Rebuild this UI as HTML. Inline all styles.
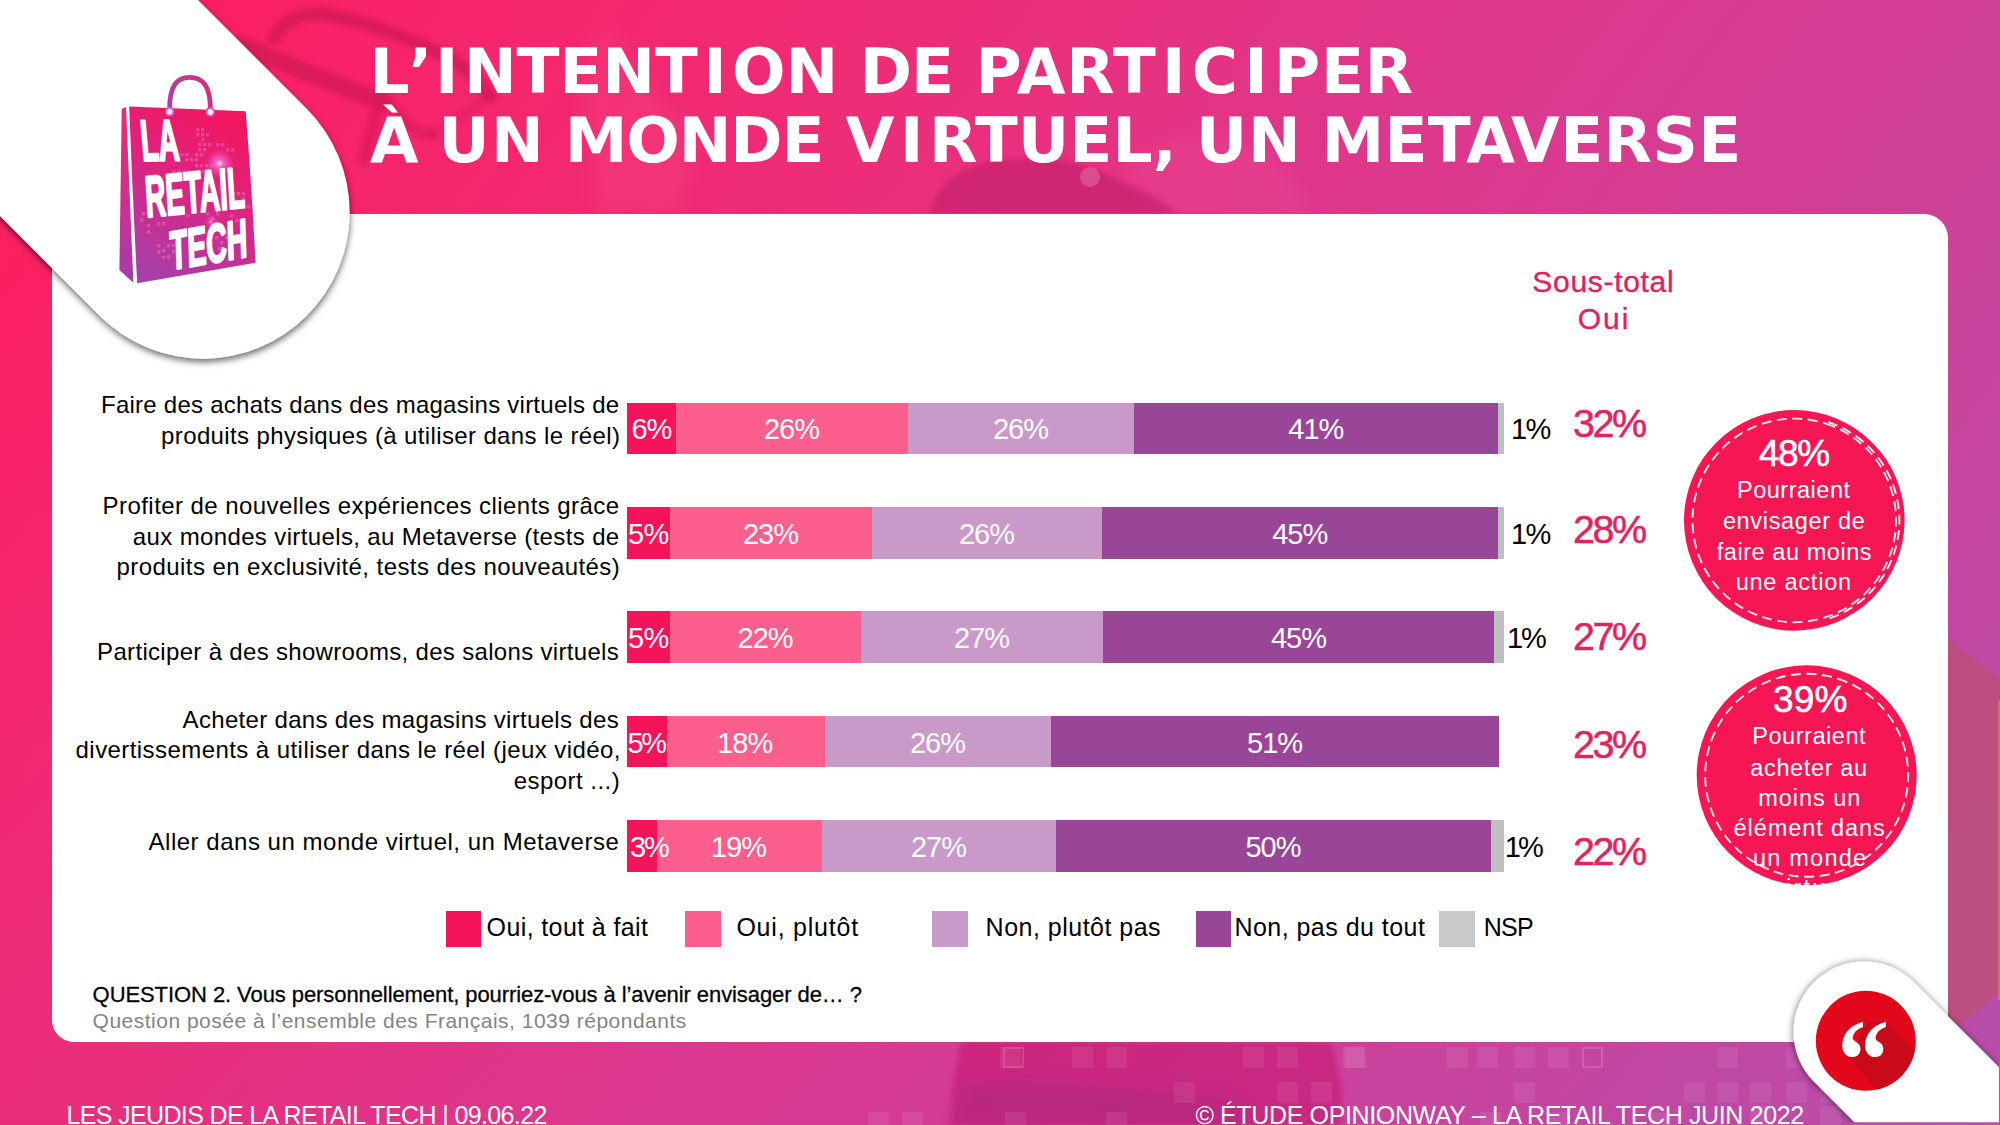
<!DOCTYPE html>
<html lang="fr"><head><meta charset="utf-8"><title>L’intention de participer à un monde virtuel, un metaverse</title>
<style>
html,body{margin:0;padding:0;background:#fff;}
body{width:2000px;height:1125px;overflow:hidden;font-family:"Liberation Sans",sans-serif;}
#slide{position:relative;width:2000px;height:1125px;overflow:hidden;
 background:linear-gradient(180deg,rgba(190,60,170,0) 35%,rgba(190,60,170,0.11) 100%),linear-gradient(127deg,#FC1D5A 0%,#F7236A 15%,#EE2C76 32%,#E0368A 50%,#D03F96 70%,#C248A1 86%,#B650AC 100%);}
#bgart{position:absolute;left:0;top:0;}
#card{position:absolute;left:52px;top:213.5px;width:1896px;height:828.5px;background:#fff;border-radius:0 24px 0 22px;}
.t{position:absolute;white-space:nowrap;line-height:1;}
.i{margin:0 5.5px;}
.ap{margin:0 -2.6px 0 -1px;}
.seg{position:absolute;}
.sq{position:absolute;top:910.5px;height:36px;}
svg{position:absolute;left:0;top:0;overflow:visible;}
</style></head>
<body>
<div id="slide">
<svg id="bgart" width="2000" height="1125" viewBox="0 0 2000 1125">
<defs>
<filter id="b3" filterUnits="userSpaceOnUse" x="0" y="0" width="2000" height="1125"><feGaussianBlur stdDeviation="2"/></filter>
<filter id="b8" filterUnits="userSpaceOnUse" x="0" y="0" width="2000" height="1125"><feGaussianBlur stdDeviation="8"/></filter>
<clipPath id="topclip"><rect x="0" y="0" width="2000" height="213.5"/></clipPath>
<clipPath id="botclip"><rect x="0" y="1042" width="2000" height="83"/></clipPath>
</defs>
<g clip-path="url(#topclip)">
<g fill="none" stroke="#D41755" stroke-linecap="round" stroke-linejoin="round" filter="url(#b3)">
<path d="M274 38 C282 22 300 13 320 14 C360 18 420 42 455 62 C470 72 482 84 490 96" stroke-opacity="0.8" stroke-width="13"/>
<path d="M240 45 C290 65 340 88 384 102" stroke-opacity="0.8" stroke-width="18"/>
<path d="M380 100 C374 122 368 142 364 160" stroke-opacity="0.55" stroke-width="12"/>
<path d="M394 106 C404 124 416 136 432 134" stroke-opacity="0.5" stroke-width="10"/>
<path d="M490 96 C470 112 450 126 432 134" stroke-opacity="0.35" stroke-width="9"/>
</g>
<path d="M596 30 C610 22 626 40 640 70 C652 96 668 110 690 120 C700 150 690 190 676 214 L600 214 C586 180 590 150 584 120 C580 90 584 50 596 30 Z" fill="#FF6A98" fill-opacity="0.13" filter="url(#b8)"/>
<path d="M930 214 C936 186 958 166 1000 160 C1040 155 1080 160 1110 176 C1140 190 1168 202 1178 214 Z" fill="#C11C68" fill-opacity="0.62" filter="url(#b3)"/>
<circle cx="1090" cy="177" r="10" fill="#E56CA8" fill-opacity="0.55"/>
<path d="M1120 175 C1150 140 1200 128 1240 140 C1280 155 1300 190 1310 214 L1170 214 C1160 196 1140 186 1120 175 Z" fill="#F060A0" fill-opacity="0.16" filter="url(#b8)"/>
</g>
<g clip-path="url(#botclip)">
<path d="M962 1042 L1330 1042 C1340 1070 1345 1100 1340 1126 L950 1126 C952 1096 955 1066 962 1042 Z" fill="#C4156C" fill-opacity="0.55" filter="url(#b3)"/>
<path d="M962 1085 C1040 1078 1150 1090 1240 1100 L1250 1126 L950 1126 Z" fill="#9C2A7E" fill-opacity="0.35" filter="url(#b8)"/>
</g>
<path d="M1948 640 L2000 678 L2000 992 L1948 1035 Z" fill="#BB4F7C" fill-opacity="0.92"/>
<rect x="1998" y="700" width="2" height="300" fill="#F08A6A" fill-opacity="0.5"/>
<g fill="#fff" fill-opacity="0.075"><rect x="1343" y="1047" width="21" height="21"/><rect x="1447" y="1047" width="21" height="21"/><rect x="1477" y="1047" width="21" height="21"/><rect x="1514" y="1047" width="21" height="21"/><rect x="1548" y="1047" width="21" height="21"/><rect x="1717" y="1047" width="21" height="21"/><rect x="1786" y="1047" width="21" height="21"/><rect x="1514" y="1082" width="21" height="21"/><rect x="1684" y="1082" width="21" height="21"/><rect x="1717" y="1082" width="21" height="21"/><rect x="1750" y="1082" width="21" height="21"/><rect x="1786" y="1082" width="21" height="21"/><rect x="1820" y="1082" width="21" height="21"/><rect x="1750" y="1106" width="21" height="21"/><rect x="1820" y="1106" width="21" height="21"/><rect x="1000" y="1047" width="21" height="21"/><rect x="1072" y="1047" width="21" height="21"/><rect x="1106" y="1047" width="21" height="21"/><rect x="1243" y="1047" width="21" height="21"/><rect x="1277" y="1047" width="21" height="21"/><rect x="1345" y="1047" width="21" height="21"/><rect x="1174" y="1082" width="21" height="21"/><rect x="1277" y="1082" width="21" height="21"/><rect x="1311" y="1082" width="21" height="21"/><rect x="868" y="1112" width="21" height="21"/><rect x="902" y="1112" width="21" height="21"/><rect x="1005" y="1112" width="21" height="21"/><rect x="1106" y="1112" width="21" height="21"/><rect x="1480" y="1112" width="21" height="21"/><rect x="1548" y="1112" width="21" height="21"/><rect x="1650" y="1112" width="21" height="21"/><rect x="1920" y="1005" width="21" height="21"/><rect x="1920" y="1080" width="21" height="21"/></g>
<rect x="1583" y="1048" width="19" height="19" fill="none" stroke="#fff" stroke-opacity="0.14" stroke-width="2"/>
<rect x="1004" y="1048" width="19" height="19" fill="none" stroke="#fff" stroke-opacity="0.14" stroke-width="2"/>
</svg>
<div id="card"></div>
<svg id="tabs" width="2000" height="1125" viewBox="0 0 2000 1125">
<defs>
<filter id="sh" filterUnits="userSpaceOnUse" x="-400" y="-400" width="2800" height="1925"><feDropShadow dx="0.5" dy="3.5" stdDeviation="3" flood-color="#000" flood-opacity="0.55"/></filter>
<filter id="sh2" filterUnits="userSpaceOnUse" x="1500" y="800" width="900" height="700"><feDropShadow dx="-0.5" dy="0.5" stdDeviation="3.5" flood-color="#000" flood-opacity="0.55"/></filter>
<clipPath id="brclip"><rect x="1700" y="900" width="299" height="222.3"/></clipPath>
<clipPath id="qclip"><circle cx="1865.8" cy="1040.8" r="50"/></clipPath>
</defs>
<line x1="-196.8" y1="-187.75" x2="203.2" y2="212.25" stroke="#fff" stroke-width="292.8" stroke-linecap="round" filter="url(#sh)"/>
<g clip-path="url(#brclip)"><line x1="1864" y1="1032" x2="2164" y2="1332" stroke="#fff" stroke-width="141" stroke-linecap="round" filter="url(#sh2)"/></g>
<circle cx="1865.8" cy="1040.8" r="50" fill="#E2071A"/>
<g clip-path="url(#qclip)"><path d="M1868 1022 L1886 1022 L1960 1096 L1920 1140 L1846 1054 L1858 1040 Z" fill="#C80A1A"/></g>
<text transform="translate(1837.3 1098.8) scale(0.98 1.10)" x="0" y="0" font-family="'Liberation Serif',serif" font-weight="700" font-size="106" fill="#fff">“</text>
</svg>
<svg id="logo" width="2000" height="1125" viewBox="0 0 2000 1125">
<defs>
<linearGradient id="bagG" gradientUnits="userSpaceOnUse" x1="240" y1="112" x2="150" y2="285">
<stop offset="0" stop-color="#F4145A"/><stop offset="0.45" stop-color="#DD2480"/><stop offset="1" stop-color="#A341AE"/></linearGradient>
<linearGradient id="sideG" gradientUnits="userSpaceOnUse" x1="124" y1="108" x2="124" y2="283">
<stop offset="0" stop-color="#EE2A72"/><stop offset="0.55" stop-color="#CC3090"/><stop offset="1" stop-color="#A03FA6"/></linearGradient>
<linearGradient id="hanG" gradientUnits="userSpaceOnUse" x1="168" y1="100" x2="212" y2="90">
<stop offset="0" stop-color="#A83FA2"/><stop offset="0.5" stop-color="#C7358C"/><stop offset="1" stop-color="#D42F7C"/></linearGradient>
<radialGradient id="glow"><stop offset="0" stop-color="#fff" stop-opacity="0.95"/><stop offset="0.25" stop-color="#FF7FE0" stop-opacity="0.7"/><stop offset="1" stop-color="#FF4FD0" stop-opacity="0"/></radialGradient>
<radialGradient id="rivet"><stop offset="0" stop-color="#fff"/><stop offset="0.5" stop-color="#FBE6FB"/><stop offset="0.62" stop-color="#D77FD6"/><stop offset="1" stop-color="#B848B0"/></radialGradient>
</defs>
<path d="M169.7 110 C169.2 86 177 77.3 189.6 77.3 C202.5 77.3 210.8 86 210.3 110" fill="none" stroke="url(#hanG)" stroke-width="4.8" stroke-linecap="round"/>
<path d="M121.7 109.1 L126 106.9 L133.4 282.8 L119.4 270 Z" fill="url(#sideG)"/>
<path d="M129.2 106.6 L245.7 111.2 Q251.5 185 255.6 262.8 L137.2 283.3 Q132.5 195 129.2 106.6 Z" fill="url(#bagG)"/>
<g fill="#FF6FCB" fill-opacity="0.42"><rect x="196" y="128" width="3.4" height="3.4"/><rect x="201" y="128" width="3.4" height="3.4"/><rect x="196" y="133" width="3.4" height="3.4"/><rect x="201" y="133" width="3.4" height="3.4"/><rect x="206" y="133" width="3.4" height="3.4"/><rect x="201" y="138" width="3.4" height="3.4"/><rect x="198" y="143" width="3.4" height="3.4"/><rect x="203" y="143" width="3.4" height="3.4"/><rect x="208" y="143" width="3.4" height="3.4"/><rect x="198" y="148" width="3.4" height="3.4"/><rect x="203" y="148" width="3.4" height="3.4"/><rect x="216" y="143" width="3.4" height="3.4"/><rect x="221" y="143" width="3.4" height="3.4"/><rect x="226" y="148" width="3.4" height="3.4"/><rect x="231" y="148" width="3.4" height="3.4"/><rect x="180" y="153" width="3.4" height="3.4"/><rect x="185" y="153" width="3.4" height="3.4"/><rect x="195" y="153" width="3.4" height="3.4"/><rect x="200" y="153" width="3.4" height="3.4"/><rect x="185" y="158" width="3.4" height="3.4"/><rect x="190" y="158" width="3.4" height="3.4"/><rect x="195" y="158" width="3.4" height="3.4"/><rect x="195" y="164" width="3.4" height="3.4"/><rect x="200" y="164" width="3.4" height="3.4"/><rect x="205" y="164" width="3.4" height="3.4"/><rect x="210" y="164" width="3.4" height="3.4"/><rect x="215" y="164" width="3.4" height="3.4"/><rect x="172" y="170" width="3.4" height="3.4"/><rect x="177" y="170" width="3.4" height="3.4"/><rect x="182" y="170" width="3.4" height="3.4"/><rect x="187" y="170" width="3.4" height="3.4"/><rect x="192" y="170" width="3.4" height="3.4"/><rect x="197" y="170" width="3.4" height="3.4"/><rect x="202" y="170" width="3.4" height="3.4"/><rect x="207" y="170" width="3.4" height="3.4"/><rect x="232" y="192" width="3.4" height="3.4"/><rect x="237" y="192" width="3.4" height="3.4"/><rect x="242" y="192" width="3.4" height="3.4"/><rect x="232" y="197" width="3.4" height="3.4"/><rect x="242" y="197" width="3.4" height="3.4"/><rect x="237" y="202" width="3.4" height="3.4"/><rect x="247" y="205" width="3.4" height="3.4"/><rect x="142" y="212" width="3.4" height="3.4"/><rect x="147" y="212" width="3.4" height="3.4"/><rect x="140" y="218" width="3.4" height="3.4"/><rect x="147" y="224" width="3.4" height="3.4"/><rect x="147" y="230" width="3.4" height="3.4"/><rect x="157" y="222" width="3.4" height="3.4"/><rect x="162" y="222" width="3.4" height="3.4"/><rect x="157" y="244" width="3.4" height="3.4"/><rect x="162" y="249" width="3.4" height="3.4"/><rect x="167" y="244" width="3.4" height="3.4"/><rect x="172" y="244" width="3.4" height="3.4"/><rect x="157" y="250" width="3.4" height="3.4"/><rect x="167" y="255" width="3.4" height="3.4"/><rect x="172" y="250" width="3.4" height="3.4"/><rect x="162" y="256" width="3.4" height="3.4"/><rect x="215" y="236" width="3.4" height="3.4"/><rect x="220" y="241" width="3.4" height="3.4"/><rect x="225" y="236" width="3.4" height="3.4"/><rect x="218" y="247" width="3.4" height="3.4"/><rect x="206" y="212" width="3.4" height="3.4"/><rect x="211" y="217" width="3.4" height="3.4"/><rect x="216" y="212" width="3.4" height="3.4"/><rect x="186" y="214" width="3.4" height="3.4"/><rect x="230" y="214" width="3.4" height="3.4"/><rect x="235" y="219" width="3.4" height="3.4"/></g>
<circle cx="219.6" cy="163.4" r="15" fill="url(#glow)"/>
<circle cx="211" cy="222" r="7" fill="url(#glow)" opacity="0.6"/>
<circle cx="169.7" cy="111.7" r="4.9" fill="url(#rivet)"/><circle cx="210.3" cy="112" r="4.9" fill="url(#rivet)"/>
<g font-family="'Liberation Sans',sans-serif" font-weight="700" font-size="100" fill="#fff" stroke="#fff" stroke-width="2" stroke-linejoin="round">
<text transform="matrix(0.2862 -0.0040 0.0517 0.5810 142.38 160.82)" x="0" y="0" style="vector-effect:non-scaling-stroke">LA</text>
<text transform="matrix(0.2798 -0.0289 0.0349 0.5810 146.62 217.37)" x="0" y="0" style="vector-effect:non-scaling-stroke">RETAIL</text>
<text transform="matrix(0.2842 -0.0502 0.0168 0.5447 170.52 270.05)" x="0" y="0" style="vector-effect:non-scaling-stroke">TECH</text>
</g>
</svg>
<div id="chart">
<div class="seg" style="left:627.0px;top:402.5px;width:48.9px;height:51.6px;background:#F5145A"></div><div class="seg" style="left:675.9px;top:402.5px;width:232.2px;height:51.6px;background:#FC5F8D"></div><div class="seg" style="left:908.1px;top:402.5px;width:225.9px;height:51.6px;background:#C999C9"></div><div class="seg" style="left:1134.0px;top:402.5px;width:363.8px;height:51.6px;background:#994698"></div><div class="seg" style="left:1497.8px;top:402.5px;width:5.9px;height:51.6px;background:#BFBFBF"></div>
<div class="seg" style="left:627.0px;top:506.7px;width:42.9px;height:52.1px;background:#F5145A"></div><div class="seg" style="left:669.9px;top:506.7px;width:202.2px;height:52.1px;background:#FC5F8D"></div><div class="seg" style="left:872.1px;top:506.7px;width:229.8px;height:52.1px;background:#C999C9"></div><div class="seg" style="left:1101.9px;top:506.7px;width:395.9px;height:52.1px;background:#994698"></div><div class="seg" style="left:1497.8px;top:506.7px;width:5.9px;height:52.1px;background:#BFBFBF"></div>
<div class="seg" style="left:627.0px;top:611.0px;width:43.0px;height:51.9px;background:#F5145A"></div><div class="seg" style="left:670.0px;top:611.0px;width:191.3px;height:51.9px;background:#FC5F8D"></div><div class="seg" style="left:861.3px;top:611.0px;width:241.8px;height:51.9px;background:#C999C9"></div><div class="seg" style="left:1103.1px;top:611.0px;width:390.8px;height:51.9px;background:#994698"></div><div class="seg" style="left:1493.9px;top:611.0px;width:9.8px;height:51.9px;background:#BFBFBF"></div>
<div class="seg" style="left:627.0px;top:715.6px;width:39.6px;height:51.8px;background:#F5145A"></div><div class="seg" style="left:666.6px;top:715.6px;width:158.4px;height:51.8px;background:#FC5F8D"></div><div class="seg" style="left:825.0px;top:715.6px;width:226.0px;height:51.8px;background:#C999C9"></div><div class="seg" style="left:1051.0px;top:715.6px;width:448.2px;height:51.8px;background:#994698"></div>
<div class="seg" style="left:627.0px;top:820.0px;width:30.0px;height:51.7px;background:#F5145A"></div><div class="seg" style="left:657.0px;top:820.0px;width:165.0px;height:51.7px;background:#FC5F8D"></div><div class="seg" style="left:822.0px;top:820.0px;width:234.0px;height:51.7px;background:#C999C9"></div><div class="seg" style="left:1056.0px;top:820.0px;width:435.0px;height:51.7px;background:#994698"></div><div class="seg" style="left:1491.0px;top:820.0px;width:13.0px;height:51.7px;background:#BFBFBF"></div>
</div>
<div id="legend"><div class="sq" style="left:445.5px;width:35.5px;background:#F5145A"></div><div class="sq" style="left:684.6px;width:36.3px;background:#FC5F8D"></div><div class="sq" style="left:932.1px;width:36.0px;background:#C999C9"></div><div class="sq" style="left:1195.5px;width:35.5px;background:#994698"></div><div class="sq" style="left:1438.9px;width:36.0px;background:#C9C9C9"></div></div>
<svg id="circles" width="2000" height="1125" viewBox="0 0 2000 1125"><circle cx="1794.3" cy="520.4" r="110.3" fill="#F51653"/><circle cx="1794.3" cy="520.4" r="101.8" fill="none" stroke="#fff" stroke-opacity="0.9" stroke-width="1.9" stroke-dasharray="10 5.5" transform="rotate(-72 1794.3 520.4)"/><path d="M1828.0 422.0 A103.5 103.5 0 0 1 1828.0 618.8" fill="none" stroke="#fff" stroke-opacity="0.9" stroke-width="1.9" stroke-dasharray="10 5.5"/><circle cx="1806.7" cy="775.3" r="110" fill="#F51653"/><circle cx="1806.7" cy="775.3" r="101.5" fill="none" stroke="#fff" stroke-opacity="0.9" stroke-width="1.9" stroke-dasharray="10 5.5" transform="rotate(-72 1806.7 775.3)"/></svg>
<h1 id="title" aria-label="L’INTENTION DE PARTICIPER À UN MONDE VIRTUEL, UN METAVERSE" style="margin:0;font:inherit">
<span class="t" style="left:369.4px;top:39.5px;font-size:63px;color:#fff;letter-spacing:-0.14px;font-family:'DejaVu Sans',sans-serif;font-weight:700;">L<span class="ap">’</span><span class="i">I</span>NTENT<span class="i">I</span>ON</span>
<span class="t" style="left:859.8px;top:39.5px;font-size:63px;color:#fff;letter-spacing:-0.99px;font-family:'DejaVu Sans',sans-serif;font-weight:700;">DE</span>
<span class="t" style="left:975.5px;top:39.5px;font-size:63px;color:#fff;letter-spacing:0.80px;font-family:'DejaVu Sans',sans-serif;font-weight:700;">PART<span class="i">I</span>C<span class="i">I</span>PER</span>
<span class="t" style="left:369.8px;top:108.6px;font-size:63px;color:#fff;letter-spacing:-2.40px;font-family:'DejaVu Sans',sans-serif;font-weight:700;">À</span>
<span class="t" style="left:438.5px;top:108.6px;font-size:63px;color:#fff;letter-spacing:1.34px;font-family:'DejaVu Sans',sans-serif;font-weight:700;">UN</span>
<span class="t" style="left:564.7px;top:108.6px;font-size:63px;color:#fff;letter-spacing:-1.12px;font-family:'DejaVu Sans',sans-serif;font-weight:700;">MONDE</span>
<span class="t" style="left:845.5px;top:108.6px;font-size:63px;color:#fff;letter-spacing:0.14px;font-family:'DejaVu Sans',sans-serif;font-weight:700;">V<span class="i">I</span>RTUEL,</span>
<span class="t" style="left:1196.0px;top:108.6px;font-size:63px;color:#fff;letter-spacing:0.84px;font-family:'DejaVu Sans',sans-serif;font-weight:700;">UN</span>
<span class="t" style="left:1321.4px;top:108.6px;font-size:63px;color:#fff;letter-spacing:0.35px;font-family:'DejaVu Sans',sans-serif;font-weight:700;">METAVERSE</span>
</h1>
<div id="texts">
<span class="t" style="left:101.0px;top:392.9px;font-size:24px;color:#000;letter-spacing:0.25px;">Faire des achats dans des magasins virtuels de</span>
<span class="t" style="left:161.1px;top:423.7px;font-size:24px;color:#000;letter-spacing:0.37px;">produits physiques (à utiliser dans le réel)</span>
<span class="t" style="left:102.6px;top:493.7px;font-size:24px;color:#000;letter-spacing:0.44px;">Profiter de nouvelles expériences clients grâce</span>
<span class="t" style="left:132.8px;top:524.5px;font-size:24px;color:#000;letter-spacing:0.37px;">aux mondes virtuels, au Metaverse (tests de</span>
<span class="t" style="left:116.6px;top:555.1px;font-size:24px;color:#000;letter-spacing:0.42px;">produits en exclusivité, tests des nouveautés)</span>
<span class="t" style="left:97.1px;top:639.6px;font-size:24px;color:#000;letter-spacing:0.32px;">Participer à des showrooms, des salons virtuels</span>
<span class="t" style="left:182.6px;top:707.5px;font-size:24px;color:#000;letter-spacing:0.32px;">Acheter dans des magasins virtuels des</span>
<span class="t" style="left:75.6px;top:738.3px;font-size:24px;color:#000;letter-spacing:0.43px;">divertissements à utiliser dans le réel (jeux vidéo,</span>
<span class="t" style="left:513.7px;top:768.6px;font-size:24px;color:#000;letter-spacing:0.46px;">esport ...)</span>
<span class="t" style="left:148.5px;top:830.3px;font-size:24px;color:#000;letter-spacing:0.52px;">Aller dans un monde virtuel, un Metaverse</span>
<span class="t" style="left:631.4px;top:415.4px;font-size:29px;color:#fff;letter-spacing:-1.13px;">6%</span>
<span class="t" style="left:763.9px;top:415.4px;font-size:29px;color:#fff;letter-spacing:-1.00px;">26%</span>
<span class="t" style="left:992.9px;top:415.4px;font-size:29px;color:#fff;letter-spacing:-1.00px;">26%</span>
<span class="t" style="left:1288.3px;top:415.4px;font-size:29px;color:#fff;letter-spacing:-1.00px;">41%</span>
<span class="t" style="left:1511.0px;top:415.4px;font-size:29px;color:#000;letter-spacing:-1.63px;">1%</span>
<span class="t" style="left:1573.0px;top:404.4px;font-size:39.5px;color:#E6215C;letter-spacing:-2.47px;-webkit-text-stroke:0.5px #E6215C;">32%</span>
<span class="t" style="left:628.1px;top:519.8px;font-size:29px;color:#fff;letter-spacing:-0.83px;">5%</span>
<span class="t" style="left:742.9px;top:519.8px;font-size:29px;color:#fff;letter-spacing:-1.00px;">23%</span>
<span class="t" style="left:958.9px;top:519.8px;font-size:29px;color:#fff;letter-spacing:-1.00px;">26%</span>
<span class="t" style="left:1272.2px;top:519.8px;font-size:29px;color:#fff;letter-spacing:-1.00px;">45%</span>
<span class="t" style="left:1511.0px;top:519.8px;font-size:29px;color:#000;letter-spacing:-1.63px;">1%</span>
<span class="t" style="left:1573.0px;top:510.4px;font-size:39.5px;color:#E6215C;letter-spacing:-2.47px;-webkit-text-stroke:0.5px #E6215C;">28%</span>
<span class="t" style="left:628.1px;top:624.0px;font-size:29px;color:#fff;letter-spacing:-0.83px;">5%</span>
<span class="t" style="left:737.5px;top:624.0px;font-size:29px;color:#fff;letter-spacing:-1.00px;">22%</span>
<span class="t" style="left:954.1px;top:624.0px;font-size:29px;color:#fff;letter-spacing:-1.00px;">27%</span>
<span class="t" style="left:1270.9px;top:624.0px;font-size:29px;color:#fff;letter-spacing:-1.00px;">45%</span>
<span class="t" style="left:1507.0px;top:624.0px;font-size:29px;color:#000;letter-spacing:-2.13px;">1%</span>
<span class="t" style="left:1573.0px;top:617.3px;font-size:39.5px;color:#E6215C;letter-spacing:-2.47px;-webkit-text-stroke:0.5px #E6215C;">27%</span>
<span class="t" style="left:627.5px;top:728.6px;font-size:29px;color:#fff;letter-spacing:-2.33px;">5%</span>
<span class="t" style="left:717.2px;top:728.6px;font-size:29px;color:#fff;letter-spacing:-1.00px;">18%</span>
<span class="t" style="left:909.9px;top:728.6px;font-size:29px;color:#fff;letter-spacing:-1.00px;">26%</span>
<span class="t" style="left:1247.0px;top:728.6px;font-size:29px;color:#fff;letter-spacing:-1.00px;">51%</span>
<span class="t" style="left:1573.0px;top:724.7px;font-size:39.5px;color:#E6215C;letter-spacing:-2.47px;-webkit-text-stroke:0.5px #E6215C;">23%</span>
<span class="t" style="left:629.9px;top:832.9px;font-size:29px;color:#fff;letter-spacing:-2.03px;">3%</span>
<span class="t" style="left:710.9px;top:832.9px;font-size:29px;color:#fff;letter-spacing:-1.00px;">19%</span>
<span class="t" style="left:910.9px;top:832.9px;font-size:29px;color:#fff;letter-spacing:-1.00px;">27%</span>
<span class="t" style="left:1245.4px;top:832.9px;font-size:29px;color:#fff;letter-spacing:-1.00px;">50%</span>
<span class="t" style="left:1504.7px;top:832.9px;font-size:29px;color:#000;letter-spacing:-2.73px;">1%</span>
<span class="t" style="left:1573.0px;top:831.6px;font-size:39.5px;color:#E6215C;letter-spacing:-2.47px;-webkit-text-stroke:0.5px #E6215C;">22%</span>
<span class="t" style="left:1532.3px;top:267.1px;font-size:30px;color:#E2205B;letter-spacing:0.70px;-webkit-text-stroke:0.35px #E2205B;">Sous-total</span>
<span class="t" style="left:1577.7px;top:303.9px;font-size:30px;color:#E2205B;letter-spacing:1.99px;-webkit-text-stroke:0.35px #E2205B;">Oui</span>
<span class="t" style="left:486.6px;top:915.0px;font-size:25px;color:#000;letter-spacing:0.38px;">Oui, tout à fait</span>
<span class="t" style="left:736.4px;top:915.0px;font-size:25px;color:#000;letter-spacing:0.78px;">Oui, plutôt</span>
<span class="t" style="left:985.6px;top:915.0px;font-size:25px;color:#000;letter-spacing:0.49px;">Non, plutôt pas</span>
<span class="t" style="left:1234.4px;top:915.0px;font-size:25px;color:#000;letter-spacing:0.47px;">Non, pas du tout</span>
<span class="t" style="left:1483.7px;top:915.0px;font-size:25px;color:#000;letter-spacing:-0.71px;">NSP</span>
<span class="t" style="left:1758.8px;top:435.4px;font-size:37px;color:#fff;letter-spacing:-1.38px;-webkit-text-stroke:0.6px #fff;">48%</span>
<span class="t" style="left:1737.0px;top:479.3px;font-size:23.5px;color:#fff;letter-spacing:0.51px;">Pourraient</span>
<span class="t" style="left:1722.9px;top:510.4px;font-size:23.5px;color:#fff;letter-spacing:0.66px;">envisager de</span>
<span class="t" style="left:1716.7px;top:540.7px;font-size:23.5px;color:#fff;letter-spacing:0.56px;">faire au moins</span>
<span class="t" style="left:1735.7px;top:571.3px;font-size:23.5px;color:#fff;letter-spacing:0.77px;">une action</span>
<span class="t" style="left:1773.0px;top:681.2px;font-size:37px;color:#fff;letter-spacing:0.17px;-webkit-text-stroke:0.6px #fff;">39%</span>
<span class="t" style="left:1752.2px;top:725.4px;font-size:23.5px;color:#fff;letter-spacing:0.55px;">Pourraient</span>
<span class="t" style="left:1750.3px;top:756.9px;font-size:23.5px;color:#fff;letter-spacing:0.64px;">acheter au</span>
<span class="t" style="left:1758.3px;top:786.8px;font-size:23.5px;color:#fff;letter-spacing:0.96px;">moins un</span>
<span class="t" style="left:1733.5px;top:817.4px;font-size:23.5px;color:#fff;letter-spacing:0.93px;">élément dans</span>
<span class="t" style="left:1753.0px;top:846.8px;font-size:23.5px;color:#fff;letter-spacing:1.22px;">un monde</span>
<span class="t" style="left:1772.0px;top:877.4px;font-size:23.5px;color:#fff;letter-spacing:2.26px;">virtuel</span>
<span class="t" style="left:92.6px;top:984.2px;font-size:22px;color:#000;letter-spacing:-0.08px;-webkit-text-stroke:0.3px #111;">QUESTION 2. Vous personnellement, pourriez-vous à l’avenir envisager de… ?</span>
<span class="t" style="left:92.6px;top:1010.4px;font-size:21px;color:#848484;letter-spacing:0.49px;">Question posée à l’ensemble des Français, 1039 répondants</span>
<span class="t" style="left:66.4px;top:1103.1px;font-size:25px;color:#fff;letter-spacing:-0.63px;">LES JEUDIS DE LA RETAIL TECH | 09.06.22</span>
<span class="t" style="left:1195.4px;top:1103.1px;font-size:25px;color:#fff;letter-spacing:-0.36px;">© ÉTUDE OPINIONWAY – LA RETAIL TECH JUIN 2022</span>
</div>
</div>
</body></html>
